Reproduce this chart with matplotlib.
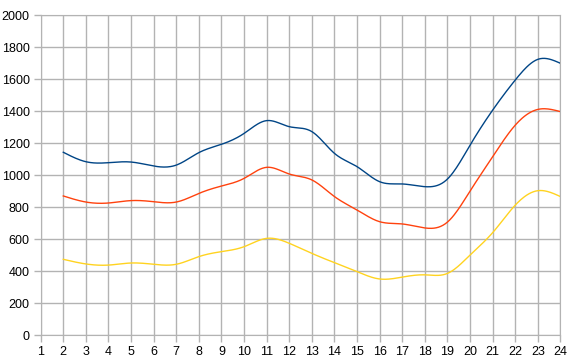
import matplotlib
matplotlib.use("Agg")
import matplotlib.pyplot as plt
import numpy as np

hours = list(range(2, 25))
series_blue = [1142, 1083, 1077, 1081, 1056, 1062, 1140, 1192, 1260, 1340, 1302, 1271,
               1135, 1052, 958, 944, 927, 975, 1187, 1406, 1594, 1723, 1698]
series_red = [869, 831, 825, 840, 833, 831, 885, 931, 979, 1048, 1006, 969,
              865, 781, 708, 694, 669, 706, 900, 1115, 1312, 1410, 1396]
series_yellow = [473, 444, 437, 450, 442, 442, 490, 521, 552, 604, 573, 510,
                 452, 396, 350, 362, 376, 385, 500, 640, 812, 902, 865]
x_ticks = list(range(1, 25))
y_ticks = list(range(0, 2001, 200))


def natural_spline(x, y, n=20):
  # plain natural cubic spline, like the office "smooth line" option
  x = np.asarray(x, float)
  y = np.asarray(y, float)
  k = len(x)
  h = np.diff(x)
  A = np.zeros((k, k))
  b = np.zeros(k)
  A[0, 0] = 1
  A[-1, -1] = 1
  for i in range(1, k - 1):
    A[i, i - 1] = h[i - 1]
    A[i, i] = 2 * (h[i - 1] + h[i])
    A[i, i + 1] = h[i]
    b[i] = 3 * ((y[i + 1] - y[i]) / h[i] - (y[i] - y[i - 1]) / h[i - 1])
  c = np.linalg.solve(A, b)
  xs, ys = [], []
  for i in range(k - 1):
    t = np.linspace(0, h[i], n, endpoint=False)
    bi = (y[i + 1] - y[i]) / h[i] - h[i] * (2 * c[i] + c[i + 1]) / 3
    di = (c[i + 1] - c[i]) / (3 * h[i])
    xs.extend(x[i] + t)
    ys.extend(y[i] + bi * t + c[i] * t ** 2 + di * t ** 3)
  xs.append(x[-1])
  ys.append(y[-1])
  return np.array(xs), np.array(ys)


plt.rcParams['font.family'] = ['Liberation Sans', 'DejaVu Sans']

fig = plt.figure(figsize=(5.72, 3.64), dpi=100)
ax = fig.add_axes([40.7 / 572, 29 / 364, 519.8 / 572, 320 / 364])

for vals, col in [(series_yellow, '#ffd320'), (series_red, '#ff420e'), (series_blue, '#004586')]:
  sx, sy = natural_spline(hours, vals)
  ax.plot(sx, sy, color=col, lw=1.0, zorder=3)

ax.set_xlim(1, 24)
ax.set_ylim(0, 2000)
ax.set_xticks(x_ticks)
ax.set_yticks(y_ticks)
ax.grid(True, color='#b3b3b3', lw=1.0)
ax.set_axisbelow(True)
for s in ax.spines.values():
  s.set_color('#b3b3b3')
ax.tick_params(colors='#b3b3b3', labelcolor='black', labelsize=9, length=5, width=1, pad=3)

fig.savefig('out.png', dpi=100)
